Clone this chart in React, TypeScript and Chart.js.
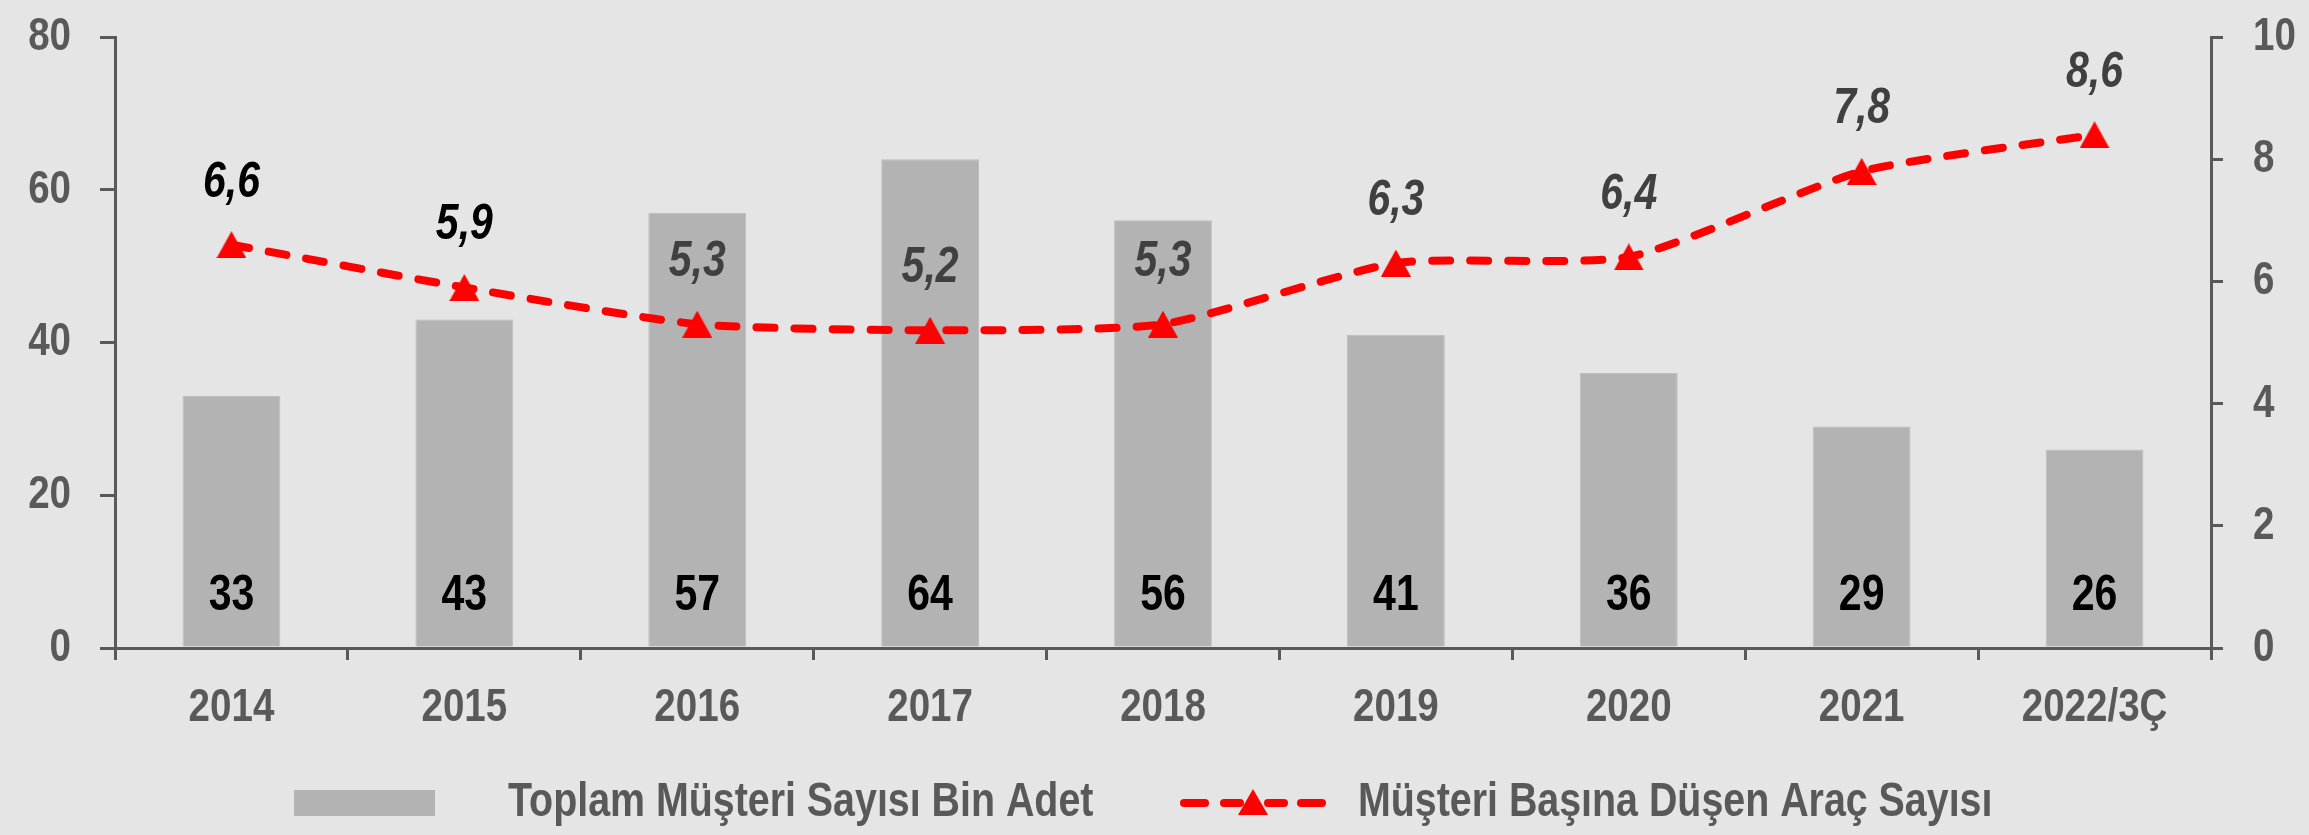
import React, { useEffect, useRef } from 'react';
import { Chart, registerables } from 'chart.js';

Chart.register(...registerables);

// ---- data ----
const categories = ['2014', '2015', '2016', '2017', '2018', '2019', '2020', '2021', '2022/3Ç'];
const customerCounts = [33, 43, 57, 64, 56, 41, 36, 29, 26];
const customerLabels = ['33', '43', '57', '64', '56', '41', '36', '29', '26'];
const vehiclesPerCustomer = [6.6, 5.9, 5.3, 5.2, 5.3, 6.3, 6.4, 7.8, 8.4];
const vehicleLabels = ['6,6', '5,9', '5,3', '5,2', '5,3', '6,3', '6,4', '7,8', '8,6'];
const leftTicks = [0, 20, 40, 60, 80];
const rightTicks = [0, 2, 4, 6, 8, 10];
const seriesNames = ['Toplam Müşteri Sayısı Bin Adet', 'Müşteri Başına Düşen Araç Sayısı'];

// ---- styles ----
const W = 2309;
const H = 835;
const BG = '#e5e5e5';
const AXIS = '#595959';
const BAR = '#b3b3b3';
const RED = '#ff0000';
const FAMILY = '"Liberation Sans", Arial, sans-serif';
const NARROW_SCALE = 0.82;
const vehicleLabelColors = ['#000000', '#000000', '#404040', '#404040', '#404040', '#404040', '#404040', '#404040', '#404040'];

function narrowText(
  ctx: CanvasRenderingContext2D,
  text: string,
  x: number,
  y: number,
  align: CanvasTextAlign,
  font: string,
  color: string,
) {
  ctx.save();
  ctx.font = font;
  ctx.fillStyle = color;
  ctx.textAlign = align;
  ctx.textBaseline = 'middle';
  ctx.translate(x, y);
  ctx.scale(NARROW_SCALE, 1);
  ctx.fillText(text, 0, 0);
  ctx.restore();
}

// triangle marker whose bounding box is centred on the data point
function makeTriangle(w: number, h: number): HTMLCanvasElement {
  const c = document.createElement('canvas');
  c.width = w;
  c.height = h;
  const g = c.getContext('2d')!;
  g.fillStyle = RED;
  g.beginPath();
  g.moveTo(w / 2, 0);
  g.lineTo(w, h);
  g.lineTo(0, h);
  g.closePath();
  g.fill();
  return c;
}

const tickPlugin = {
  id: 'narrowTicks',
  afterDraw(chart: any) {
    const ctx = chart.ctx;
    const font = `bold 47px ${FAMILY}`;
    const { x, y, y1 } = chart.scales;
    y.ticks.forEach((t: any) => {
      narrowText(ctx, String(t.value), y.right - 15 - 29, y.getPixelForValue(t.value), 'right', font, AXIS);
    });
    y1.ticks.forEach((t: any) => {
      narrowText(ctx, String(t.value), y1.left + 12 + 30, y1.getPixelForValue(t.value), 'left', font, AXIS);
    });
    categories.forEach((c, i) => {
      narrowText(ctx, c, x.getPixelForTick(i), x.top + 60, 'center', font, AXIS);
    });
  },
};

const labelPlugin = {
  id: 'valueLabels',
  afterDatasetsDraw(chart: any) {
    const ctx = chart.ctx;
    const yScale = chart.scales.y;
    const barMeta = chart.getDatasetMeta(0);
    const lineMeta = chart.getDatasetMeta(1);
    const baseY = yScale.getPixelForValue(0);
    barMeta.data.forEach((el: any, i: number) => {
      narrowText(ctx, customerLabels[i], el.x, baseY - 52, 'center', `bold 50px ${FAMILY}`, '#000000');
    });
    lineMeta.data.forEach((el: any, i: number) => {
      narrowText(ctx, vehicleLabels[i], el.x, el.y - 62, 'center', `italic bold 50px ${FAMILY}`, vehicleLabelColors[i]);
    });
  },
};

const legendPlugin = {
  id: 'customLegend',
  afterDraw(chart: any) {
    const ctx = chart.ctx;
    const cy = 803;
    const font = `bold 48px ${FAMILY}`;
    ctx.save();
    ctx.fillStyle = BAR;
    ctx.fillRect(294, 790, 141, 26);
    ctx.restore();
    narrowText(ctx, seriesNames[0], 508, cy, 'left', font, AXIS);
    ctx.save();
    ctx.strokeStyle = RED;
    ctx.lineWidth = 8;
    ctx.lineCap = 'round';
    const segs = [[1184, 1205], [1224, 1240], [1268, 1284], [1301, 1322]];
    segs.forEach(([a, b]) => {
      ctx.beginPath();
      ctx.moveTo(a, cy);
      ctx.lineTo(b, cy);
      ctx.stroke();
    });
    ctx.fillStyle = RED;
    ctx.beginPath();
    ctx.moveTo(1253, cy - 14);
    ctx.lineTo(1268, cy + 12);
    ctx.lineTo(1238, cy + 12);
    ctx.closePath();
    ctx.fill();
    ctx.restore();
    narrowText(ctx, seriesNames[1], 1358, cy, 'left', font, AXIS);
  },
};

export default function App() {
  const ref = useRef<HTMLCanvasElement | null>(null);

  useEffect(() => {
    if (!ref.current) return;
    const tri = makeTriangle(30, 27);
    const axisGrid = (len: number) =>
      ({
        drawOnChartArea: false,
        drawTicks: true,
        tickLength: len,
        tickColor: AXIS,
        lineWidth: 3,
        tickWidth: 3,
      } as any);
    const chart = new Chart(ref.current, {
      type: 'bar',
      data: {
        labels: categories,
        datasets: [
          {
            type: 'bar',
            label: seriesNames[0],
            data: customerCounts,
            backgroundColor: BAR,
            borderColor: '#bdbdbd',
            borderWidth: 1,
            categoryPercentage: 1,
            barPercentage: 0.42,
            yAxisID: 'y',
            order: 2,
          },
          {
            type: 'line',
            label: seriesNames[1],
            data: vehiclesPerCustomer,
            borderColor: RED,
            borderWidth: 8,
            borderDash: [18, 20],
            borderCapStyle: 'round',
            tension: 0.2,
            pointStyle: tri,
            pointRadius: 15,
            pointBackgroundColor: RED,
            pointBorderColor: RED,
            pointBorderWidth: 0,
            yAxisID: 'y1',
            order: 1,
          } as any,
        ],
      },
      options: {
        responsive: false,
        animation: false,
        devicePixelRatio: 1,
        layout: { padding: { top: 37, bottom: 87, left: 0, right: 0 } },
        plugins: {
          legend: { display: false },
          tooltip: { enabled: false },
        },
        scales: {
          x: {
            type: 'category',
            offset: true,
            grid: { ...axisGrid(12), offset: true },
            border: { display: true, color: AXIS, width: 3 },
            ticks: { display: false, autoSkip: false },
            afterFit: (s: any) => {
              s.height = 100;
            },
          },
          y: {
            position: 'left',
            min: 0,
            max: 80,
            afterBuildTicks: (s: any) => {
              s.ticks = leftTicks.map((v) => ({ value: v }));
            },
            grid: axisGrid(15),
            border: { display: true, color: AXIS, width: 3 },
            ticks: { display: false },
            afterFit: (s: any) => {
              s.width = 115;
            },
          },
          y1: {
            position: 'right',
            min: 0,
            max: 10,
            afterBuildTicks: (s: any) => {
              s.ticks = rightTicks.map((v) => ({ value: v }));
            },
            grid: axisGrid(12),
            border: { display: true, color: AXIS, width: 3 },
            ticks: { display: false },
            afterFit: (s: any) => {
              s.width = 98;
            },
          },
        },
      },
      plugins: [labelPlugin, tickPlugin, legendPlugin],
    });
    return () => chart.destroy();
  }, []);

  return (
    <div style={{ position: 'absolute', left: 0, top: 0, width: W, height: H, background: BG }}>
      <canvas ref={ref} width={W} height={H} style={{ display: 'block', width: W, height: H }} />
    </div>
  );
}
